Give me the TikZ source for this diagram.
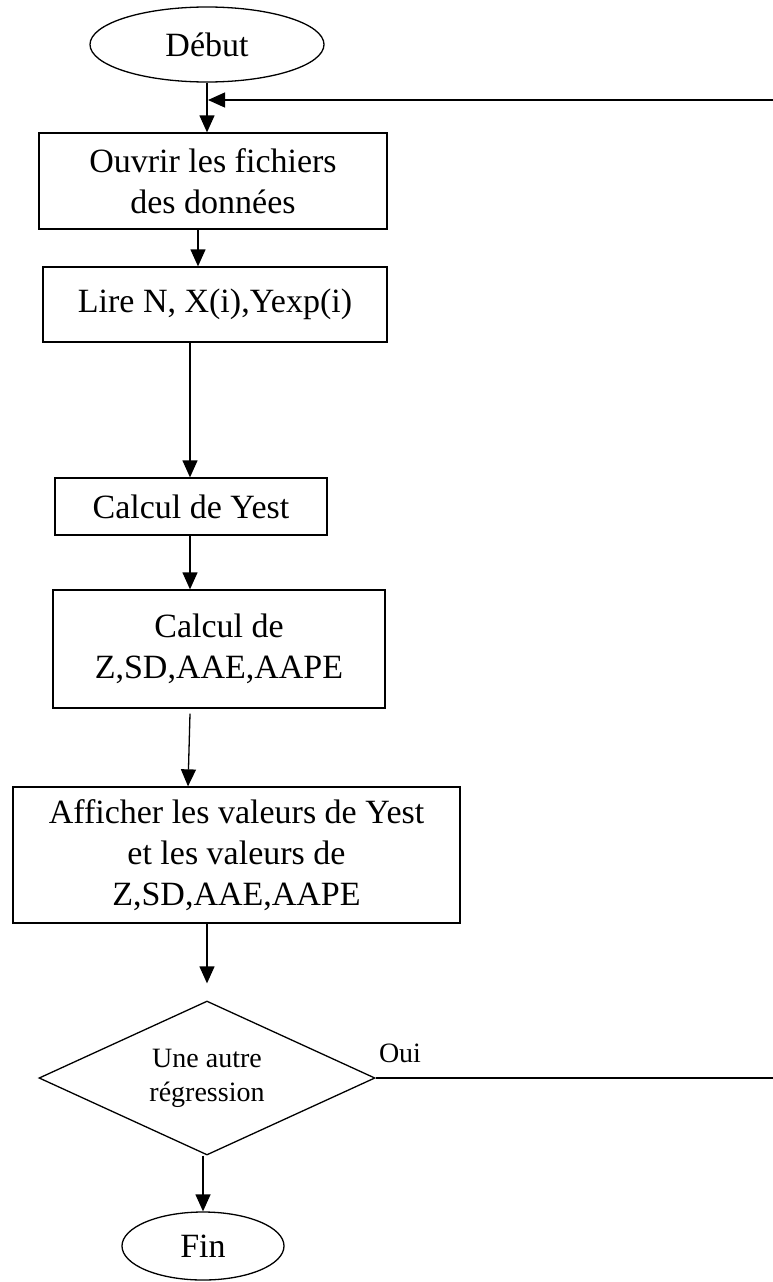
\documentclass[tikz,border=0pt]{standalone}
\usepackage{fontspec}
\setmainfont{Liberation Serif}
\usetikzlibrary{shapes.geometric,arrows.meta}
\begin{document}
\begin{tikzpicture}[x=1pt,y=-1pt,
  line width=1.3pt,
  box/.style={draw, rectangle, inner sep=0pt, align=center, font=\fontsize{34}{41}\selectfont},
  term/.style={draw, ellipse, inner sep=0pt, font=\fontsize{34}{41}\selectfont},
  dec/.style={draw, diamond, aspect=2.2, inner sep=0pt, align=center, font=\fontsize{28}{34}\selectfont},
  lbl/.style={font=\fontsize{28}{34}\selectfont},
  arr/.style={-{Triangle[width=15pt,length=17pt]}},
]
\useasboundingbox (0,0) rectangle (772,1282);

\node[term, minimum width=234pt, minimum height=75pt] (debut) at (207,44.5) {Début};
\node[box, minimum width=348pt, minimum height=96pt] (b1) at (213,181) {Ouvrir les fichiers\\des données};
\node[box, minimum width=344pt, minimum height=75pt] (b2) at (215,304.5) {Lire N, X(i),Yexp(i)};
\node[box, minimum width=272pt, minimum height=57pt] (b3) at (191,506.5) {Calcul de Yest};
\node[box, minimum width=332pt, minimum height=118pt] (b4) at (219,649) {Calcul de\\Z,SD,AAE,AAPE};
\node[box, minimum width=447pt, minimum height=136pt] (b5) at (236.5,855) {Afficher les valeurs de Yest\\et les valeurs de\\Z,SD,AAE,AAPE};
\node[dec, minimum width=336pt, minimum height=154pt] (dec) at (207,1078) {Une autre\\régression};
\node[term, minimum width=162pt, minimum height=68pt] (fin) at (203,1246) {Fin};
\node[lbl] (oui) at (400,1053) {Oui};

\coordinate (j) at (208,100);
\coordinate (c2) at (800,100);

\draw[arr] (debut.south) -- ([xshift=-6pt]b1.north);
\draw[arr] ([xshift=-15pt]b1.south) -- ([xshift=-17pt]b2.north);
\draw[arr] ([xshift=-25pt]b2.south) -- ([xshift=-1pt]b3.north);
\draw[arr] ([xshift=-1pt]b3.south) -- ([xshift=-29pt]b4.north);
\draw[arr] ([xshift=-29pt,yshift=-5pt]b4.south) -- ([xshift=-48.5pt]b5.north);
\draw[arr, shorten >=17pt] ([xshift=-29.5pt]b5.south) -- (dec.north);
\draw[arr] ([xshift=-4pt]dec.south) -- (fin.north);
\draw[arr] (dec.east) -- (dec.east -| c2) -- (c2) -- (j);
\end{tikzpicture}
\end{document}
